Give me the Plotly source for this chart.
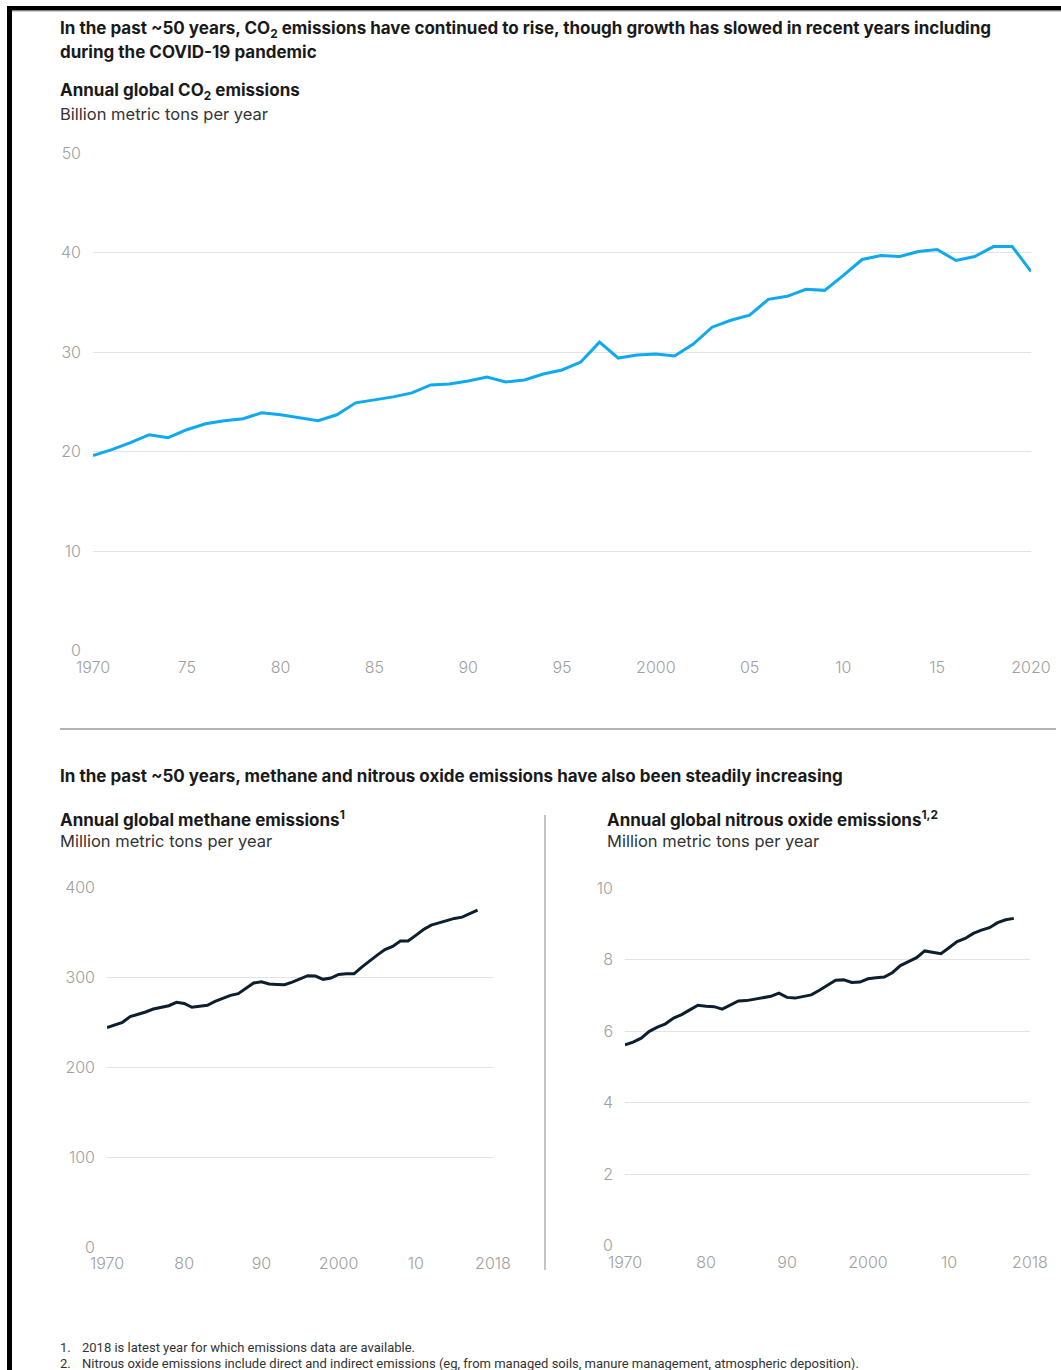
import plotly.graph_objects as go

# ---------------- data ----------------
co2_years = list(range(1970, 2021))
co2_values = [19.6, 20.2, 20.9, 21.7, 21.4, 22.2, 22.8, 23.1, 23.3, 23.9,
              23.7, 23.4, 23.1, 23.7, 24.9, 25.2, 25.5, 25.9, 26.7, 26.8,
              27.1, 27.5, 27.0, 27.2, 27.8, 28.2, 29.0, 31.0, 29.4, 29.7,
              29.8, 29.6, 30.8, 32.5, 33.2, 33.7, 35.3, 35.6, 36.3, 36.2,
              37.7, 39.3, 39.7, 39.6, 40.1, 40.3, 39.2, 39.6, 40.6, 40.6,
              38.1]

ghg_years = list(range(1970, 2019))
methane_values = [244.1, 247.0, 250.0, 256.3, 258.5, 261.5, 264.8, 267.0, 268.5, 272.2,
                  271.0, 266.7, 267.8, 268.9, 273.3, 276.3, 280.0, 281.9, 287.8, 293.7,
                  295.2, 292.6, 292.2, 291.9, 294.8, 298.5, 301.9, 301.5, 297.8, 299.3,
                  303.3, 304.0, 304.0, 311.5, 318.5, 324.8, 331.0, 334.4, 340.4, 340.4,
                  346.7, 353.3, 358.1, 360.7, 363.3, 365.6, 367.0, 371.1, 374.8]
n2o_values = [5.61, 5.69, 5.80, 5.99, 6.11, 6.20, 6.36, 6.46, 6.59, 6.72,
              6.69, 6.68, 6.61, 6.72, 6.84, 6.85, 6.89, 6.93, 6.97, 7.06,
              6.94, 6.92, 6.96, 7.01, 7.14, 7.27, 7.42, 7.43, 7.36, 7.37,
              7.46, 7.49, 7.51, 7.63, 7.83, 7.94, 8.05, 8.24, 8.21, 8.16,
              8.33, 8.50, 8.59, 8.73, 8.82, 8.89, 9.03, 9.11, 9.15]

co2_xtick_vals = [1970, 1975, 1980, 1985, 1990, 1995, 2000, 2005, 2010, 2015, 2020]
co2_xtick_text = ["1970", "75", "80", "85", "90", "95", "2000", "05", "10", "15", "2020"]
co2_ytick_vals = [0, 10, 20, 30, 40, 50]

ghg_xtick_vals = [1970, 1980, 1990, 2000, 2010, 2020]
ghg_xtick_text = ["1970", "80", "90", "2000", "10", "2018"]
methane_ytick_vals = [0, 100, 200, 300, 400]
n2o_ytick_vals = [0, 2, 4, 6, 8, 10]

# ---------------- layout helpers ----------------
W, H = 1061, 1370


def px(x):
    return x / W


def py(y):
    return 1 - y / H


FONT = "Inter"
TEXT = "#1a1a1a"
TICK = "#a0a0a0"
GRID = "#e3e3e3"
CYAN = "#0FA9EE"
NAVY = "#0B1F2E"

fig = go.Figure()
fig.add_trace(go.Scatter(x=co2_years, y=co2_values, mode="lines",
                         line=dict(color=CYAN, width=3), xaxis="x", yaxis="y",
                         showlegend=False))
fig.add_trace(go.Scatter(x=ghg_years, y=methane_values, mode="lines",
                         line=dict(color=NAVY, width=3), xaxis="x2", yaxis="y2",
                         showlegend=False))
fig.add_trace(go.Scatter(x=ghg_years, y=n2o_values, mode="lines",
                         line=dict(color=NAVY, width=3), xaxis="x3", yaxis="y3",
                         showlegend=False))

tickfont = dict(family=FONT, size=16, color=TICK, weight=300)


def xax(domain, anchor, vals, text):
    return dict(domain=domain, anchor=anchor, range=[1970, 2020], tickvals=vals,
                ticktext=text, showgrid=False, zeroline=False, showline=False,
                ticks="", tickfont=tickfont, fixedrange=True, automargin=False,
                ticklabelstandoff=5)


def yax(domain, anchor, rng, vals):
    return dict(domain=domain, anchor=anchor, range=rng, tickvals=vals,
                showgrid=True, gridcolor=GRID, gridwidth=1, zeroline=False,
                showline=False, ticks="", tickfont=tickfont, fixedrange=True,
                ticklabelstandoff=11, automargin=False)


fig.update_layout(
    width=W, height=H, autosize=False,
    margin=dict(l=0, r=0, t=0, b=0, pad=0, autoexpand=False),
    paper_bgcolor="white", plot_bgcolor="white",
    xaxis=xax([px(93), px(1031)], "y", co2_xtick_vals, co2_xtick_text),
    yaxis=yax([py(650.7), py(153)], "x", [0, 50], co2_ytick_vals),
    xaxis2=xax([px(107), px(493)], "y2", ghg_xtick_vals, ghg_xtick_text),
    yaxis2=yax([py(1247), py(887.5)], "x2", [0, 400], methane_ytick_vals),
    xaxis3=xax([px(625), px(1030)], "y3", ghg_xtick_vals, ghg_xtick_text),
    yaxis3=yax([py(1245.5), py(888)], "x3", [0, 10], n2o_ytick_vals),
)

annotations = []


def label(x, y, text, size=17, bold=False, color=TEXT, weight=None, family=FONT):
    w = weight if weight is not None else (700 if bold else 400)
    annotations.append(dict(xref="paper", yref="paper", x=px(x), y=py(y),
                            xanchor="left", yanchor="middle", text=text,
                            showarrow=False,
                            font=dict(family=family, size=size, color=color, weight=w)))


label(58, 29, "In the past ~50 years, CO<sub>2</sub> emissions have continued to rise, "
              "though growth has slowed in recent years including", size=17, weight=650)
label(58, 52, "during the COVID-19 pandemic", size=17, weight=650)
label(58, 91, "Annual global CO<sub>2</sub> emissions", weight=650)
label(58, 114, "Billion metric tons per year", size=16.5, color="#333333")

label(58, 776, "In the past ~50 years, methane and nitrous oxide emissions have also "
               "been steadily increasing", weight=650)
label(58, 818, "Annual global methane emissions<sup>1</sup>", weight=650)
label(58, 841, "Million metric tons per year", size=16.5, color="#333333")
label(605, 818, "Annual global nitrous oxide emissions<sup>1,2</sup>", weight=650)
label(605, 841, "Million metric tons per year", size=16.5, color="#333333")

FN = "Roboto"
label(58, 1347, "1.", size=13, color="#333333", family=FN)
label(80, 1347, "2018 is latest year for which emissions data are available.",
      size=13, color="#333333", family=FN)
label(58, 1363, "2.", size=13, color="#333333", family=FN)
label(80, 1363, "Nitrous oxide emissions include direct and indirect emissions (eg, from "
                "managed soils, manure management, atmospheric deposition).",
      size=13, color="#333333", family=FN)

shapes = [
    # black frame (top and left)
    dict(type="rect", xref="paper", yref="paper", x0=px(7), x1=px(W),
         y0=py(10.5), y1=py(6), fillcolor="black", line_width=0, layer="above"),
    dict(type="rect", xref="paper", yref="paper", x0=px(7), x1=px(12),
         y0=py(H), y1=py(6), fillcolor="black", line_width=0, layer="above"),
    dict(type="line", xref="paper", yref="paper", x0=px(12), x1=px(W),
         y0=py(11.5), y1=py(11.5), line=dict(color="#cfcfcf", width=1)),
    # horizontal divider
    dict(type="line", xref="paper", yref="paper", x0=px(60), x1=px(1056),
         y0=py(729), y1=py(729), line=dict(color="#9a9a9a", width=1.5)),
    # vertical divider between bottom charts
    dict(type="line", xref="paper", yref="paper", x0=px(545), x1=px(545),
         y0=py(815), y1=py(1270), line=dict(color="#8a8a8a", width=1)),
]

fig.update_layout(annotations=annotations, shapes=shapes)
fig.write_html("out.html")
